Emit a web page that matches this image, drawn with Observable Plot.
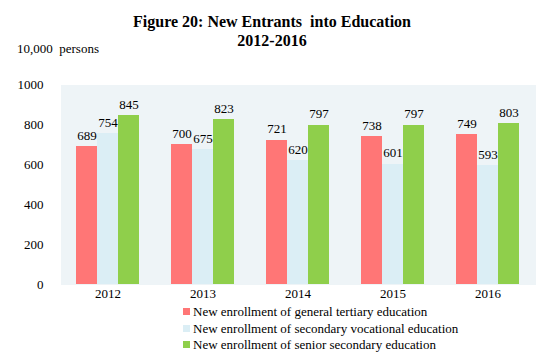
<!DOCTYPE html>
<html>
<head>
<meta charset="utf-8">
<script src="https://cdn.jsdelivr.net/npm/d3@7"></script>
<script src="https://cdn.jsdelivr.net/npm/@observablehq/plot@0.6"></script>
<style>
  html, body { margin: 0; padding: 0; background: #ffffff; }
  #wrap { position: relative; width: 550px; height: 354px; overflow: hidden; font-family: "Liberation Serif", serif; }
  #wrap svg { position: absolute; left: 0; top: 0; }
  #wrap svg, #wrap svg text { font-family: "Liberation Serif", serif !important; font-size: 13px; }
  .title { position: absolute; left: 0; width: 544px; text-align: center; font-weight: bold; font-size: 16px; color: #000; white-space: pre; font-family: "Liberation Serif", serif; }
  #unit { position: absolute; left: 17px; top: 41px; font-size: 13px; white-space: pre; font-family: "Liberation Serif", serif; }
  #legend { position: absolute; left: 183px; top: 304px; font-size: 13px; font-family: "Liberation Serif", serif; }
  .item { height: 16.5px; line-height: 16.5px; white-space: nowrap; }
  .sw { display: inline-block; width: 7px; height: 7px; margin-right: 3px; vertical-align: 1px; }
</style>
</head>
<body>
<div id="wrap">
  <div class="title" style="top:13px">Figure 20: New Entrants  into Education</div>
  <div class="title" style="top:32px">2012-2016</div>
  <div id="unit">10,000  persons</div>
  <div id="legend"></div>
</div>
<script>
const years = ["2012", "2013", "2014", "2015", "2016"];
const seriesNames = [
  "New enrollment of general tertiary education",
  "New enrollment of secondary vocational education",
  "New enrollment of senior secondary education"
];
const tertiary = [689, 700, 721, 738, 749];
const vocational = [754, 675, 620, 601, 593];
const senior = [845, 823, 797, 797, 803];
const yTicks = [0, 200, 400, 600, 800, 1000];
const colors = ["#ff7676", "#dbeef5", "#8fcf4b"];

const seriesValues = [tertiary, vocational, senior];
const data = [];
years.forEach((yr, i) => {
  seriesNames.forEach((s, j) => data.push({year: yr, series: s, value: seriesValues[j][i]}));
});

const chart = Plot.plot({
  width: 550,
  height: 354,
  marginLeft: 60,
  marginRight: 15,
  marginTop: 84,
  marginBottom: 70,
  style: {fontFamily: "Liberation Serif", fontSize: "13px", color: "#000", background: "transparent"},
  fx: {domain: years, padding: 0, axis: "bottom", label: null, tickSize: 0, tickPadding: 4},
  x: {domain: seriesNames, paddingInner: 0, paddingOuter: 0.74, axis: null},
  y: {domain: [0, 1000], ticks: yTicks, tickSize: 0, tickPadding: 17, label: null, tickFormat: d => String(d)},
  color: {domain: seriesNames, range: colors},
  marks: [
    Plot.frame({fill: "#eef4f7", stroke: null, shapeRendering: "crispEdges"}),
    Plot.barY(data, {fx: "year", x: "series", y: "value", fill: "series", inset: 0, shapeRendering: "crispEdges"}),
    Plot.text(data, {fx: "year", x: "series", y: "value", text: d => String(d.value), dy: -11, fill: "#000"})
  ]
});
document.getElementById("wrap").insertBefore(chart, document.getElementById("wrap").firstChild);

const legend = document.getElementById("legend");
seriesNames.forEach((s, j) => {
  const row = document.createElement("div");
  row.className = "item";
  const sw = document.createElement("span");
  sw.className = "sw";
  sw.style.background = colors[j];
  row.appendChild(sw);
  row.appendChild(document.createTextNode(s));
  legend.appendChild(row);
});
</script>
</body>
</html>
